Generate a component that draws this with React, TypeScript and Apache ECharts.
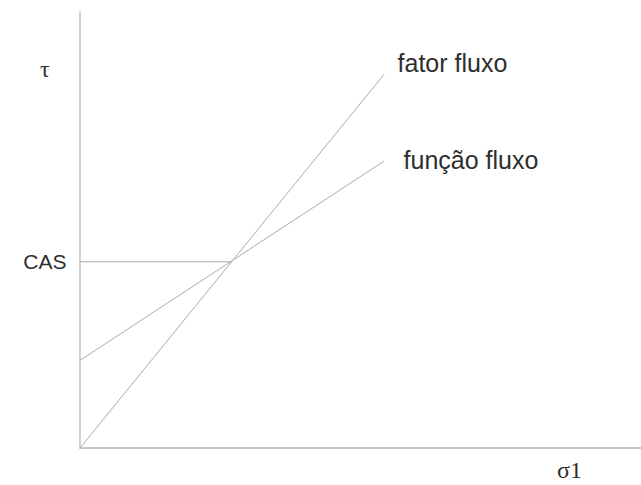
import React, { useEffect, useRef } from "react";
import * as echarts from "echarts";

// Abstract units: x in 0..100, y in 0..100
const fatorFluxo: [number, number][] = [[0, 0], [54.2, 85.7]];
const funcaoFluxo: [number, number][] = [[0, 20.1], [54.2, 65.8]];
const casLine: [number, number][] = [[0, 42.7], [27.1, 42.7]];
const lineNames = ["fator fluxo", "função fluxo"];
const casLabel = "CAS";
const yAxisName = "τ";
const xAxisName = "σ1";

export default function App() {
  const ref = useRef<HTMLDivElement>(null);
  useEffect(() => {
    if (!ref.current) return;
    const chart = echarts.init(ref.current, null, { renderer: "svg" });
    const lineColor = "#ababab";
    const textColor = "#2e2e2e";
    const sansFont = "'Liberation Sans', Arial, sans-serif";
    const serifFont = "'Liberation Serif', 'Times New Roman', serif";
    const endLabel = (text: string, pos: [number, number]) => ({
      show: true,
      position: pos,
      align: "left",
      verticalAlign: "middle",
      formatter: text,
      color: textColor,
      fontSize: 25,
      fontFamily: sansFont,
    });
    const baseSeries = {
      type: "line",
      symbol: "circle",
      symbolSize: 1,
      showSymbol: true,
      showAllSymbol: true,
      itemStyle: { color: "rgba(0,0,0,0)", borderWidth: 0 },
      lineStyle: { color: lineColor, width: 1 },
      emphasis: { disabled: true },
      labelLayout: { hideOverlap: false },
    };
    chart.setOption({
      animation: false,
      backgroundColor: "#ffffff",
      grid: { left: 80, right: 0, top: 12, bottom: 37 },
      xAxis: {
        type: "value",
        min: 0,
        max: 100,
        axisLine: { show: true, lineStyle: { color: "#b5b5b5", width: 1.5 } },
        axisTick: { show: false },
        axisLabel: { show: false },
        splitLine: { show: false },
      },
      yAxis: {
        type: "value",
        min: 0,
        max: 100,
        axisLine: { show: true, lineStyle: { color: "#c4c4c4", width: 1.5 } },
        axisTick: { show: false },
        axisLabel: { show: false },
        splitLine: { show: false },
      },
      graphic: [
        {
          type: "text",
          left: 40,
          top: 57,
          style: { text: yAxisName, fontSize: 24, fontFamily: serifFont, fill: textColor },
        },
        {
          type: "text",
          left: 557,
          top: 458,
          style: { text: xAxisName, fontSize: 24, fontFamily: serifFont, fill: textColor },
        },
      ],
      series: [
        {
          ...baseSeries,
          name: lineNames[0],
          data: fatorFluxo.map((p, i) =>
            i === fatorFluxo.length - 1
              ? { value: p, label: endLabel(lineNames[0], [14, -11]) }
              : { value: p }
          ),
        },
        {
          ...baseSeries,
          name: lineNames[1],
          data: funcaoFluxo.map((p, i) =>
            i === funcaoFluxo.length - 1
              ? { value: p, label: endLabel(lineNames[1], [20, -1]) }
              : { value: p }
          ),
        },
        {
          ...baseSeries,
          name: casLabel,
          data: casLine.map((p, i) =>
            i === 0
              ? {
                  value: p,
                  label: {
                    show: true,
                    position: "left",
                    distance: 13,
                    formatter: casLabel,
                    color: textColor,
                    fontSize: 21,
                    fontFamily: sansFont,
                  },
                }
              : { value: p }
          ),
        },
      ],
    });
    return () => chart.dispose();
  }, []);
  return (
    <div
      ref={ref}
      style={{ position: "absolute", left: 0, top: 0, width: 641, height: 485 }}
    />
  );
}
